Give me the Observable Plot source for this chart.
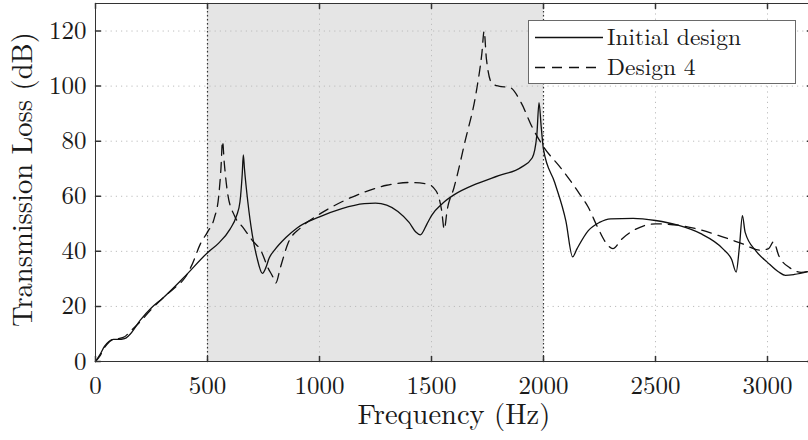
<!DOCTYPE html>
<html><head><meta charset="utf-8">
<script src="https://cdn.jsdelivr.net/npm/d3@7"></script>
<script src="https://cdn.jsdelivr.net/npm/@observablehq/plot@0.6"></script>
<style>
body{margin:0;background:#fff;}
#wrap{position:relative;width:808px;height:440px;overflow:hidden;}
#wrap svg, #wrap svg text{font-family:"Latin Modern Roman","Liberation Serif",serif !important;}
#legend{position:absolute;left:528px;top:20px;width:268px;height:64px;background:#fff;border:1px solid #6a6a6a;box-sizing:border-box;}
#legend svg{position:absolute;left:0;top:0;}
</style></head><body><div id="wrap"></div>
<script>
const seriesNames = ["Initial design", "Design 4"];
const freqInitial = [0,20,40,60,80,100,130,150,200,250,300,400,500,550,600,630,645,655,660,665,680,700,720,745,760,775,800,850,900,1000,1100,1200,1250,1300,1350,1400,1430,1450,1480,1500,1550,1600,1700,1800,1900,1950,1970,1980,1990,2000,2050,2100,2130,2150,2200,2250,2300,2400,2500,2600,2700,2800,2840,2860,2875,2888,2900,2950,3000,3050,3080,3120,3200];
const tlInitial = [0,2.5,5.5,7.3,8,8,8.3,9.5,15,19.5,23,31,39.5,43,48,53,58,68,75,70,58,46,38,32,34,37.5,40.5,45,48.5,52.5,55.5,57.3,57.5,56.8,54.5,50.5,47,46,50,53,57.5,60.5,64.5,67.5,70.5,74,82,94,85,77,65,51,38,41,47.5,50.5,51.8,52,51.2,49.5,46.5,41,37,32.5,42,53,47,40,36,32.5,31.3,31.6,33];
const freqDesign4 = [0,20,40,60,80,100,130,150,200,250,300,350,400,430,470,500,530,550,560,567,575,590,620,660,700,740,770,790,805,825,860,915,1000,1100,1200,1300,1400,1480,1520,1545,1557,1570,1600,1650,1700,1725,1735,1745,1770,1800,1850,1900,1950,2000,2080,2160,2200,2240,2280,2310,2350,2400,2500,2600,2700,2780,2880,2970,3005,3027,3050,3100,3150,3200];
const tlDesign4 = [0,2,5,7,8,8.3,9,10.5,14.5,19,23,26.5,30.5,35,43,47,52,60,70,80,72,61,53,48.5,44,40,34,31,28.5,34,43,48.5,53.5,58,61.5,64,65,64.5,62,55,48,55,63,80,98,112,120,110,101,100,99.5,94,85,78,70,61,56,49,43,41,44.5,47.5,50,49.5,47.8,45.8,43,40.4,41,43.5,38.5,34,32.4,33];
const xTicks = [0,500,1000,1500,2000,2500,3000];
const yTicks = [0,20,40,60,80,100,120];
const band = [500, 2000];
const xLabel = "Frequency (Hz)";
const yLabel = "Transmission Loss (dB)";

const initial = freqInitial.map((f,i)=>({f, tl: tlInitial[i]}));
const design4 = freqDesign4.map((f,i)=>({f, tl: tlDesign4[i]}));
const tickShape = {draw(ctx, l){ ctx.moveTo(0,0); ctx.lineTo(0,-l); }};
const ink = "#1a1a1a";
const serif = "Latin Modern Roman, Liberation Serif, serif";

const chart = Plot.plot({
  width: 808, height: 440,
  marginLeft: 95, marginRight: -3.8, marginTop: 3, marginBottom: 79,
  style: {fontFamily: serif, fontSize: "25px", color: ink, background: "#fff"},
  x: {domain: [0, 3200]},
  y: {domain: [0, 130]},
  marks: [
    Plot.rect([band], {x1: d=>d[0], x2: d=>d[1], fill: "#e5e5e5"}),
    Plot.gridX(xTicks.slice(1), {stroke: "#bdbdbd", strokeOpacity: 1, strokeDasharray: "1.2,4"}),
    Plot.gridY(yTicks.slice(1), {stroke: "#bdbdbd", strokeOpacity: 1, strokeDasharray: "1.2,4"}),
    Plot.ruleX(band, {stroke: "#333", strokeDasharray: "1.5,2.5", strokeWidth: 1.2}),
    Plot.line(initial, {x: "f", y: "tl", stroke: "#111", strokeWidth: 1.3, curve: "monotone-x"}),
    Plot.line(design4, {x: "f", y: "tl", stroke: "#111", strokeWidth: 1.3, strokeDasharray: "10,7", curve: "monotone-x"}),
    Plot.frame({stroke: "#333", strokeWidth: 1}),
    Plot.vector(xTicks, {x: d=>d, y: 0, length: 5, rotate: 0, anchor: "start", shape: tickShape, stroke: "#333"}),
    Plot.vector(xTicks, {x: d=>d, y: 130, length: 5, rotate: 180, anchor: "start", shape: tickShape, stroke: "#333"}),
    Plot.vector(yTicks, {x: 0, y: d=>d, length: 5, rotate: 90, anchor: "start", shape: tickShape, stroke: "#333"}),
    Plot.vector(yTicks, {x: 3200, y: d=>d, length: 5, rotate: -90, anchor: "start", shape: tickShape, stroke: "#333"}),
    Plot.axisX({ticks: xTicks, tickSize: 0, tickPadding: 15, tickFormat: d=>String(d), label: null, fontSize: 25, fontFamily: serif}),
    Plot.axisY({ticks: yTicks, tickSize: 0, tickPadding: 9, tickFormat: d=>String(d), label: null, fontSize: 25, fontFamily: serif}),
    Plot.text([xLabel], {frameAnchor: "bottom", dy: 53, text: d=>d, fontSize: 28.5, fontFamily: serif, textAnchor: "middle", lineAnchor: "middle", fill: ink}),
    Plot.text([yLabel], {frameAnchor: "left", dx: -73, dy: -3, text: d=>d, fontSize: 28.5, fontFamily: serif, rotate: -90, textAnchor: "middle", lineAnchor: "middle", fill: ink})
  ]
});
const wrap = document.getElementById("wrap");
wrap.appendChild(chart);

// legend
const leg = document.createElement("div");
leg.id = "legend";
const ns = "http://www.w3.org/2000/svg";
const svg = document.createElementNS(ns, "svg");
svg.setAttribute("width", 268); svg.setAttribute("height", 64);
seriesNames.forEach((name, i) => {
  const y = 16.5 + i * 30;
  const ln = document.createElementNS(ns, "line");
  ln.setAttribute("x1", 6); ln.setAttribute("x2", 74);
  ln.setAttribute("y1", y); ln.setAttribute("y2", y);
  ln.setAttribute("stroke", "#111"); ln.setAttribute("stroke-width", 1.3);
  if (i === 1) ln.setAttribute("stroke-dasharray", "10,7");
  svg.appendChild(ln);
  const t = document.createElementNS(ns, "text");
  t.setAttribute("x", 78); t.setAttribute("y", y + 7.5);
  t.setAttribute("font-size", 23.5);
  t.setAttribute("font-family", serif);
  t.setAttribute("fill", ink);
  t.textContent = name;
  svg.appendChild(t);
});
leg.appendChild(svg);
wrap.appendChild(leg);
</script>
</body></html>
